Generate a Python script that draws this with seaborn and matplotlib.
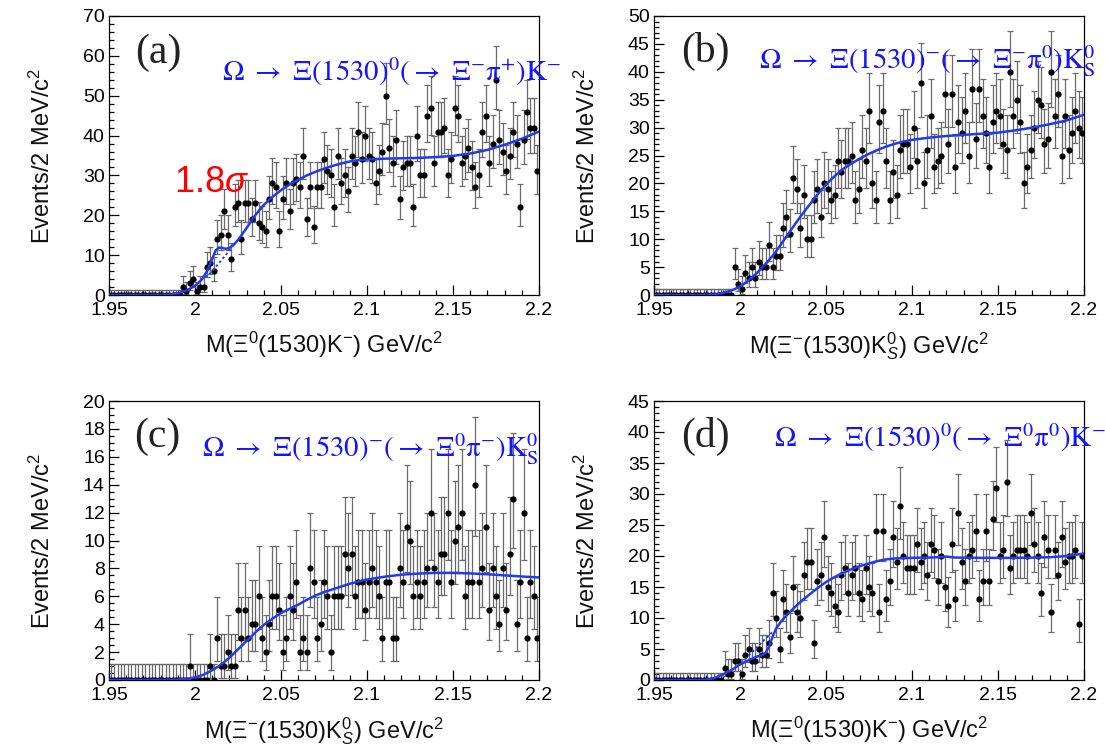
import numpy as np
import pandas as pd
import matplotlib
matplotlib.use("Agg")
import matplotlib.pyplot as plt
import seaborn as sns
from matplotlib.ticker import MultipleLocator, FuncFormatter

# ---------------- data ----------------
bin_lo, bin_hi, bin_w = 1.95, 2.20, 0.002

counts_a = [0]*21 + [
    2, 1, 3, 4, 1, 2, 2, 7, 8, 6,
    14, 15, 21, 15, 9, 22, 23, 14, 23, 23,
    19, 23, 18, 17, 16, 24, 28, 27, 16, 24,
    28, 21, 28, 29, 27, 35, 19, 27, 17, 27,
    27, 34, 31, 30, 22, 35, 28, 30, 26, 35,
    33, 41, 34, 40, 35, 34, 28, 31, 36, 50,
    37, 33, 39, 24, 32, 33, 33, 22, 40, 30,
    30, 45, 47, 33, 41, 41, 42, 30, 34, 47,
    45, 33, 35, 37, 32, 27, 30, 41, 45, 33,
    38, 54, 39, 36, 31, 35, 41, 38, 22, 39,
    46, 42, 42, 31]

counts_b = [0]*23 + [
    5, 2, 1, 4, 3, 5, 3, 6, 5, 5,
    9, 5, 7, 7, 12, 14, 11, 21, 19, 12,
    18, 10, 10, 17, 19, 14, 20, 19, 17, 18,
    24, 22, 24, 24, 25, 17, 19, 26, 24, 33,
    20, 17, 31, 33, 24, 17, 22, 18, 26, 27,
    27, 23, 30, 24, 38, 20, 26, 32, 23, 24,
    25, 36, 27, 36, 23, 31, 29, 33, 25, 37,
    28, 37, 32, 29, 23, 31, 33, 32, 27, 26,
    40, 32, 35, 31, 20, 23, 26, 30, 35, 34,
    27, 28, 40, 32, 36, 25, 32, 26, 29, 33,
    30, 29]

counts_c = [0]*23 + [
    1, 0, 0, 0, 0, 0, 1, 0, 3, 1,
    1, 2, 1, 1, 5, 3, 5, 3, 4, 4,
    6, 3, 2, 4, 6, 6, 5, 2, 3, 6,
    5, 7, 2, 3, 2, 8, 7, 3, 4, 7,
    6, 2, 6, 6, 6, 9, 8, 9, 6, 7,
    7, 5, 7, 8, 7, 6, 3, 7, 7, 3,
    3, 8, 7, 11, 10, 6, 7, 6, 7, 8,
    12, 8, 7, 9, 9, 12, 7, 10, 11, 12,
    6, 7, 7, 14, 7, 8, 11, 5, 8, 6,
    4, 8, 5, 9, 13, 4, 7, 12, 3, 7,
    6, 3]

counts_d = [0]*20 + [
    2, 1, 1,
    3, 3, 1, 4, 5, 3, 3, 5, 4, 4,
    6, 14, 10, 5, 13, 11, 7, 15, 11, 10,
    17, 19, 19, 6, 16, 17, 23, 15, 14, 12,
    11, 17, 18, 14, 17, 18, 14, 13, 18, 15,
    14, 24, 11, 24, 13, 16, 23, 19, 28, 20,
    18, 18, 18, 22, 19, 20, 17, 22, 21, 16,
    20, 15, 12, 22, 13, 27, 19, 16, 20, 21,
    24, 13, 16, 24, 16, 26, 31, 20, 21, 32,
    18, 20, 21, 21, 21, 20, 27, 22, 20, 14,
    23, 21, 11, 21, 17, 23, 19, 20, 20, 21,
    9, 20]

# fit curves
fit_a_x = [1.95, 1.97, 1.98, 1.985, 1.99, 1.995, 2.0, 2.004, 2.007, 2.010, 2.012, 2.014,
           2.016, 2.018, 2.020, 2.0225, 2.025, 2.030, 2.035, 2.040, 2.045, 2.050, 2.055,
           2.060, 2.065, 2.070, 2.075, 2.080, 2.085, 2.090, 2.095, 2.100, 2.110, 2.120,
           2.130, 2.140, 2.150, 2.160, 2.170, 2.180, 2.190, 2.200]
fit_a_y = [0, 0, 0.03, 0.12, 0.4, 1.1, 2.3, 3.9, 6.0, 9.0, 11.2, 11.9,
           11.8, 11.6, 11.8, 12.6, 13.8, 16.8, 20.0, 22.6, 24.6, 26.3, 27.7,
           28.9, 30.0, 30.9, 31.7, 32.4, 33.0, 33.5, 33.8, 34.0, 34.2, 34.3,
           34.4, 34.6, 34.9, 35.5, 36.4, 37.7, 39.2, 41.0]
bkg_a_x = [2.006, 2.009, 2.012, 2.015, 2.018, 2.021, 2.023]
bkg_a_y = [4.5, 5.5, 7.0, 8.6, 10.1, 11.8, 13.0]

fit_b_x = [1.95, 1.975, 1.98, 1.985, 1.99, 1.995, 2.0, 2.005, 2.01, 2.015, 2.02, 2.025,
           2.03, 2.035, 2.04, 2.045, 2.05, 2.055, 2.06, 2.065, 2.07, 2.075, 2.08, 2.085,
           2.09, 2.095, 2.1, 2.11, 2.12, 2.13, 2.14, 2.15, 2.16, 2.17, 2.18, 2.19, 2.2]
fit_b_y = [0, 0, 0.03, 0.12, 0.35, 0.8, 1.5, 2.6, 4.0, 5.6, 7.4, 9.6,
           11.8, 14.0, 16.0, 18.0, 19.8, 21.3, 22.6, 23.6, 24.5, 25.3, 26.0, 26.6,
           27.1, 27.5, 27.8, 28.2, 28.5, 28.7, 28.9, 29.1, 29.5, 30.0, 30.6, 31.3, 32.3]

fit_c_x = [1.95, 1.98, 1.99, 1.995, 2.0, 2.005, 2.01, 2.015, 2.02, 2.025, 2.03, 2.035,
           2.04, 2.045, 2.05, 2.055, 2.06, 2.065, 2.07, 2.075, 2.08, 2.085, 2.09, 2.095,
           2.1, 2.11, 2.12, 2.13, 2.14, 2.15, 2.16, 2.17, 2.18, 2.19, 2.2]
fit_c_y = [0, 0, 0.03, 0.08, 0.18, 0.38, 0.7, 1.08, 1.6, 2.2, 2.8, 3.4,
           3.95, 4.4, 4.8, 5.1, 5.4, 5.75, 6.05, 6.3, 6.5, 6.7, 6.9, 7.05,
           7.2, 7.4, 7.55, 7.63, 7.68, 7.68, 7.64, 7.58, 7.5, 7.42, 7.35]

fit_d_x = [1.95, 1.975, 1.98, 1.985, 1.99, 1.995, 2.0, 2.005, 2.01, 2.013, 2.015, 2.017,
           2.019, 2.021, 2.024, 2.028, 2.032, 2.036, 2.04, 2.045, 2.05, 2.055, 2.06,
           2.065, 2.07, 2.075, 2.08, 2.085, 2.09, 2.1, 2.11, 2.115, 2.12, 2.125, 2.14,
           2.16, 2.18, 2.19, 2.2]
fit_d_y = [0, 0, 0.05, 0.3, 0.9, 1.6, 2.5, 3.2, 3.8, 4.0, 4.4, 5.5,
           7.0, 8.3, 9.5, 10.7, 11.8, 12.8, 13.7, 14.8, 15.8, 16.6, 17.3,
           17.9, 18.4, 18.8, 19.2, 19.45, 19.6, 19.7, 19.75, 19.8, 19.9, 19.75, 19.7,
           19.7, 19.8, 20.0, 20.4]
bkg_d_x = [2.003, 2.007, 2.011, 2.015, 2.0195]
bkg_d_y = [3.4, 4.5, 5.6, 6.7, 7.9]

panel_tags = ["(a)", "(b)", "(c)", "(d)"]
decay_labels = [
    r"$\mathrm{\Omega\ \rightarrow\ \Xi(1530)^{0}(\rightarrow\ \Xi^{-}\pi^{+})K^{-}}$",
    r"$\mathrm{\Omega\ \rightarrow\ \Xi(1530)^{-}(\rightarrow\ \Xi^{-}\pi^{0})K^{0}_{S}}$",
    r"$\mathrm{\Omega\ \rightarrow\ \Xi(1530)^{-}(\rightarrow\ \Xi^{0}\pi^{-})K^{0}_{S}}$",
    r"$\mathrm{\Omega\ \rightarrow\ \Xi(1530)^{0}(\rightarrow\ \Xi^{0}\pi^{0})K^{-}}$",
]
x_titles = [
    r"M($\Xi^{0}$(1530)K$^{-}$) GeV/c$^{2}$",
    r"M($\Xi^{-}$(1530)K$^{0}_{S}$) GeV/c$^{2}$",
    r"M($\Xi^{-}$(1530)K$^{0}_{S}$) GeV/c$^{2}$",
    r"M($\Xi^{0}$(1530)K$^{-}$) GeV/c$^{2}$",
]
y_title = r"Events/2 MeV/c$^{2}$"
y_max = [70, 50, 20, 45]
y_major = [10, 5, 2, 5]
y_minor = [2, 1, 0.5, 1]
signif_text = r"1.8$\sigma$"

# ---------------- style ----------------
sns.set_theme(style="ticks")
plt.rcParams["font.family"] = ["Liberation Sans", "DejaVu Sans"]
plt.rcParams["mathtext.fontset"] = "custom"
plt.rcParams["mathtext.rm"] = "Liberation Sans"
plt.rcParams["mathtext.it"] = "Liberation Sans:italic"
plt.rcParams["mathtext.bf"] = "Liberation Sans:bold"
plt.rcParams["mathtext.sf"] = "Liberation Sans"

W, H = 1105, 745
fig = plt.figure(figsize=(W / 100, H / 100), dpi=100)
fig.patch.set_facecolor("white")

boxes = [(109, 16), (654, 16), (109, 401), (654, 401)]  # (left, top) in px
aw, ah = 430, 279

edges = np.arange(bin_lo, bin_hi + bin_w / 2, bin_w)
centers = 0.5 * (edges[:-1] + edges[1:])

all_counts = [counts_a, counts_b, counts_c, counts_d]
fits = [(fit_a_x, fit_a_y), (fit_b_x, fit_b_y), (fit_c_x, fit_c_y), (fit_d_x, fit_d_y)]
bkgs = [(bkg_a_x, bkg_a_y), None, None, (bkg_d_x, bkg_d_y)]

tag_pos = [(0.115, 0.870), (0.120, 0.872), (0.113, 0.872), (0.120, 0.872)]
dec_pos = [(0.262, 0.800), (0.245, 0.838), (0.216, 0.828), (0.278, 0.870)]

blue_line = "#2438f0"
blue_text = "#1414ff"

for k in range(4):
    left, top = boxes[k]
    ax = fig.add_axes([left / W, 1 - (top + ah) / H, aw / W, ah / H])
    n = np.asarray(all_counts[k], dtype=float)
    df = pd.DataFrame({"m": centers, "n": n})
    # Poisson-style (Gehrels) asymmetric errors
    hi = np.where(n > 0, np.sqrt(n + 0.75) + 1.0, 1.15)
    nn = np.maximum(n, 1)
    low_edge = np.where(n > 0, n * (1 - 1 / (9 * nn) - 1 / (3 * np.sqrt(nn))) ** 3, 0.0)
    lo = n - low_edge
    ax.errorbar(df["m"], df["n"], yerr=[lo, hi], fmt="none", ecolor="#6a6a6a",
                elinewidth=0.9, capsize=2.2, capthick=0.9, zorder=2)
    sns.scatterplot(data=df, x="m", y="n", ax=ax, color="black", s=20,
                    linewidth=0, zorder=3, legend=False)
    fx, fy = fits[k]
    sns.lineplot(x=fx, y=fy, ax=ax, color=blue_line, linewidth=1.8, sort=False,
                 estimator=None, zorder=4)
    if bkgs[k] is not None:
        bx, by = bkgs[k]
        sns.lineplot(x=bx, y=by, ax=ax, color=blue_line, linewidth=1.4, sort=False,
                     estimator=None, zorder=4, linestyle=(0, (1.2, 1.4)))

    ax.set_xlim(bin_lo, bin_hi)
    ax.set_ylim(0, y_max[k])
    ax.xaxis.set_major_locator(MultipleLocator(0.05))
    ax.xaxis.set_minor_locator(MultipleLocator(0.01))
    ax.yaxis.set_major_locator(MultipleLocator(y_major[k]))
    ax.yaxis.set_minor_locator(MultipleLocator(y_minor[k]))
    ax.xaxis.set_major_formatter(FuncFormatter(lambda v, p: f"{v:g}"))
    ax.yaxis.set_major_formatter(FuncFormatter(lambda v, p: f"{v:g}"))
    ax.tick_params(which="both", direction="in", top=False, right=False,
                   width=0.9, colors="black", labelsize=14)
    ax.tick_params(which="major", length=7)
    ax.tick_params(which="minor", length=3.5)
    ax.tick_params(axis="y", pad=3)
    ax.tick_params(axis="x", pad=5)
    for s in ax.spines.values():
        s.set_visible(True)
        s.set_color("black")
        s.set_linewidth(0.9)
    ax.set_facecolor("white")
    ax.grid(False)

    ax.set_xlabel(x_titles[k], fontsize=17, color="#111111")
    ax.set_ylabel(y_title, fontsize=17, color="#111111")
    ax.xaxis.set_label_coords(0.5, -0.125)
    ax.yaxis.set_label_coords(-0.125, 0.5)

    ax.text(tag_pos[k][0], tag_pos[k][1], panel_tags[k], transform=ax.transAxes,
            ha="center", va="center", fontsize=30, color="#222222",
            family=["Liberation Serif", "DejaVu Serif"])
    ax.text(dec_pos[k][0], dec_pos[k][1], decay_labels[k], transform=ax.transAxes,
            ha="left", va="center", fontsize=20.8, color=blue_text, math_fontfamily="stix")
    if k == 0:
        ax.text(0.15, 0.405, signif_text, transform=ax.transAxes, ha="left",
                va="center", fontsize=26, color="#ff0000")

fig.savefig("out.png", dpi=100, facecolor="white")
